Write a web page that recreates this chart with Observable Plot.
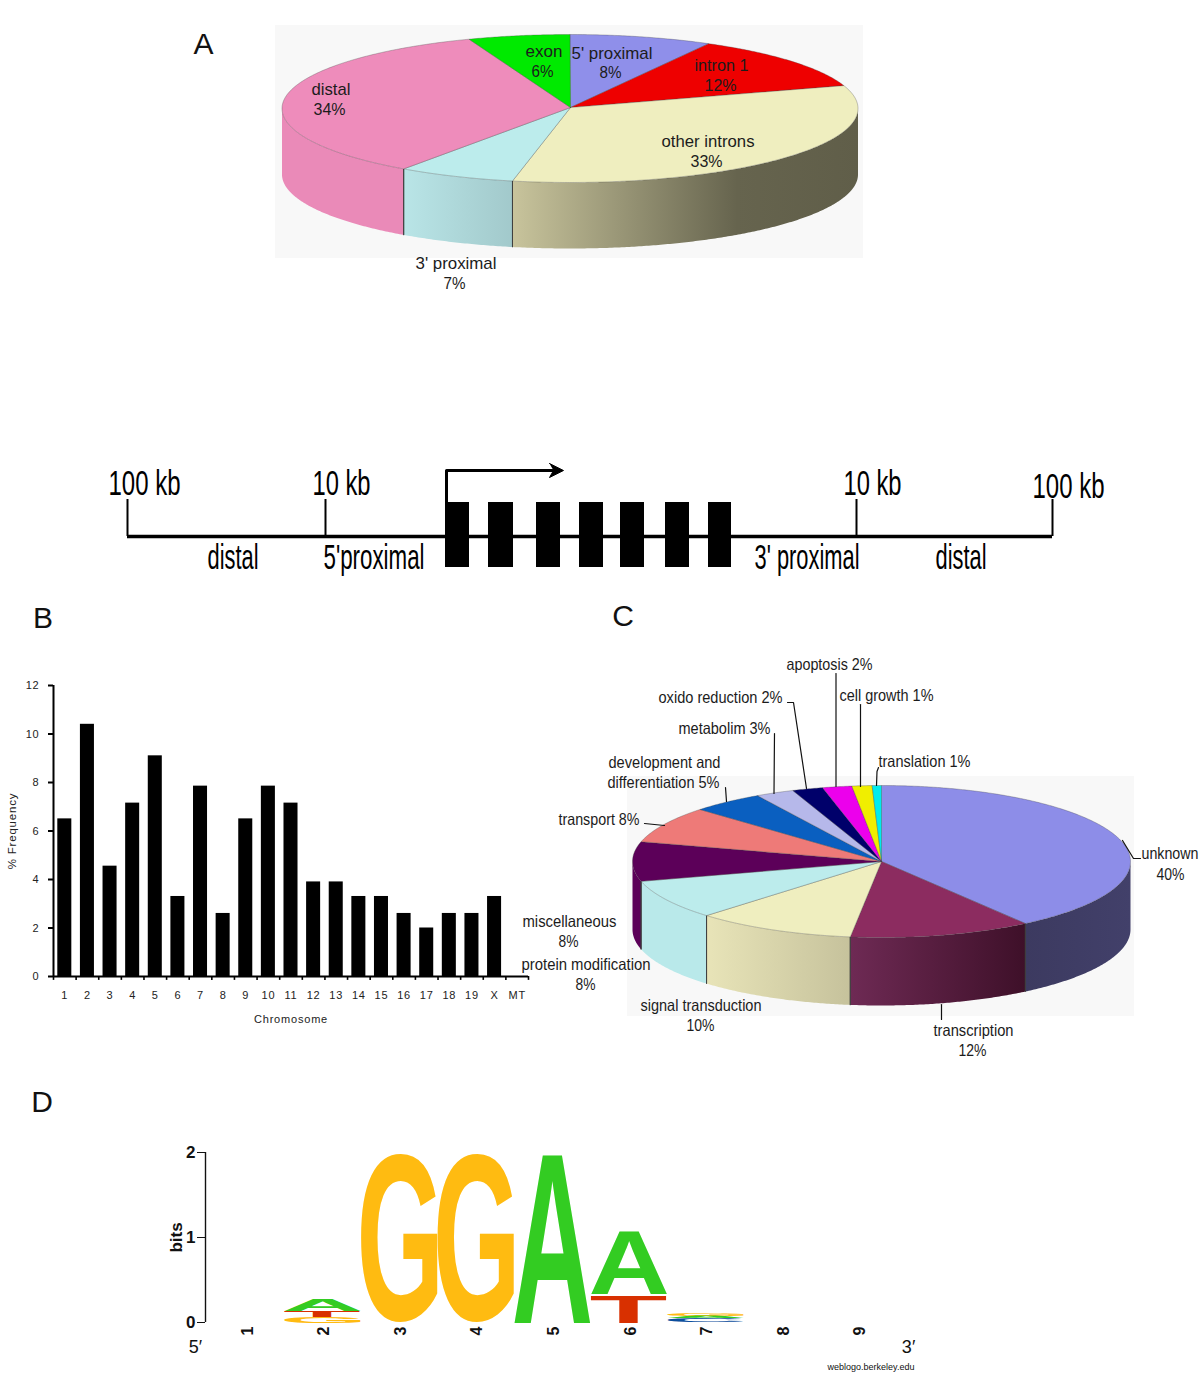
<!DOCTYPE html>
<html>
<head>
<meta charset="utf-8">
<script src="https://cdn.jsdelivr.net/npm/d3@7"></script>
<script src="https://cdn.jsdelivr.net/npm/@observablehq/plot@0.6"></script>
<style>
  html, body { margin: 0; padding: 0; background: #fff; }
  #page { position: relative; width: 1200px; height: 1388px; overflow: hidden; }
  #page > svg { position: absolute; }
</style>
</head>
<body>
<div id="page"></div>
<script>
// ---------- Panel A: genomic location of sites ----------
const regionNames  = ["5' proximal", "intron 1", "other introns", "3' proximal", "distal", "exon"];
const regionShares = [8, 12, 33.2, 6.6, 34.5, 5.7];
const regionColors = ["#8f8fea", "#ee0000", "#efeebf", "#bcecec", "#ee8cbb", "#00ea00"];

// ---------- Gene diagram ----------
const geneTicks  = [127, 325, 856, 1052];
const exonStarts = [445, 488, 536, 579, 620, 665, 708];
const exonEnds   = [469, 513, 560, 603, 644, 689, 731];

// ---------- Panel B: chromosome frequency ----------
const chromosomes = ["1","2","3","4","5","6","7","8","9","10","11","12","13","14","15","16","17","18","19","X","MT"];
const frequency   = [6.5,10.4,4.55,7.15,9.1,3.3,7.85,2.6,6.5,7.85,7.15,3.9,3.9,3.3,3.3,2.6,2.0,2.6,2.6,3.3,0];

// ---------- Panel C: gene ontology ----------
const goNames  = ["unknown","transcription","signal transduction","protein modification","miscellaneous","transport","development and differentiation","metabolim","oxido reduction","apoptosis","cell growth","translation"];
const goShares = [40.2, 11.8, 10.4, 8.4, 8.4, 7.8, 4.7, 2.5, 2, 1.9, 1.3, 0.6];
const goColors = ["#8d8de8","#8c2c60","#efeebf","#bcecec","#5c0059","#ee7a78","#0a5fc0","#b6b8ea","#00006a","#ec00ec","#f0ee00","#00ecec"];

// ---------- Panel D: sequence logo ----------
const logoPositions = [1,2,3,4,5,6,7,8,9];
const logoLetters = ["G","T","A","G","G","A","T","A","C","A","G"];
const logoPos     = [2,2,2,3,4,5,6,6,7,7,7];
const logoBase    = [-0.01,0.07,0.14,0,0,0,0,0.33,0.01,0.05,0.08];
const logoTop     = [0.06,0.14,0.28,1.98,1.98,2.0,0.32,1.08,0.05,0.08,0.11];
const baseColors  = {A:"#33cc22", G:"#ffbb11", T:"#d83000", C:"#0b4f9e"};

// ---------- Text ----------
const labelsA = [
  ["exon",525,56,37],["6%",531,76,22],["5' proximal",571,58,81],["8%",599,77,22],
  ["intron 1",694,70,54],["12%",704,90,32],["distal",311,94,39],["34%",313,114,32],
  ["other introns",661,146,93],["33%",690,166,32],["3' proximal",415,268,81],["7%",443,288,22]
];
const labelsGene = [
  ["100 kb",108,494,72],["10 kb",312,494,58],["10 kb",843,494,58],["100 kb",1032,497,72],
  ["distal",207,568,51],["5'proximal",323,568,101],["3' proximal",754,568,105],["distal",935,568,51]
];
const labelsC = [
  ["apoptosis 2%",786,669,86],["cell growth 1%",839,700,94],["oxido reduction 2%",658,702,124],
  ["translation 1%",878,766,92],["metabolim 3%",678,733,92],["development and",608,767,112],
  ["differentiation 5%",607,787,112],["transport 8%",558,824,81],["unknown",1141,858,57],["40%",1156,879,28],
  ["miscellaneous",522,926,94],["8%",558,946,20],["protein modification",521,969,129],["8%",575,989,20],
  ["signal transduction",640,1010,121],["10%",686,1030,28],["transcription",933,1035,80],["12%",958,1055,28]
];
const leadersC = [
  [[835.5,673],[835.5,786]], [[860,704],[860,786]], [[878,767],[876.5,771],[876,785]],
  [[787,702],[793,702],[806,788]], [[774,733],[773.5,793]], [[725,787],[726,801]],
  [[644,823],[664,825]], [[1122,840],[1133,858],[1140,858]], [[941,1004],[941,1019]]
];

// ---------- Helpers ----------
const page = document.getElementById("page");
const SANS = '"Liberation Sans", Arial, sans-serif';

function place(svg, left, top) {
  svg.style.left = left + "px";
  svg.style.top = top + "px";
  page.appendChild(svg);
}

// A Plot whose x/y scales cover a window of the page, so one unit is one pixel.
function framePlot(x0, x1, y0, y1, marks) {
  const svg = Plot.plot({
    width: x1 - x0, height: y1 - y0, margin: 0,
    x: {domain: [x0, x1], axis: null},
    y: {domain: [y1, y0], axis: null},
    color: {type: "identity"},
    style: {background: "transparent", fontFamily: SANS, overflow: "visible"},
    marks
  });
  place(svg, x0, y0);
}

// Text lines fitted to the width they take in the reference.
function fittedText(rows, fontSize, fill = "#1c1c1c") {
  const data = rows.map(([text, x, y, w]) => ({text, x, y, w}));
  return Plot.text(data, {
    x: "x", y: "y", text: "text", textAnchor: "start", lineAnchor: "bottom",
    fontSize, fill,
    render(index, scales, values, dims, ctx, next) {
      const g = next(index, scales, values, dims, ctx);
      d3.select(g).selectAll("text").each(function (i) {
        this.setAttribute("textLength", data[i].w);
        this.setAttribute("lengthAdjust", "spacingAndGlyphs");
      });
      return g;
    }
  });
}

// Tilted 3D pie drawn from shares; each visible wall gets a horizontal gradient.
function pieMarks(g, shares, colors, ramps) {
  const total = d3.sum(shares);
  const rad = d => d * Math.PI / 180;
  const rx = d => g.cx + g.rx * Math.sin(rad(d));
  const ry = d => g.cy - g.ry * Math.cos(rad(d));
  const tops = [], walls = [], edges = [], gradients = [];
  let acc = 0;
  shares.forEach((s, i) => {
    const a0 = acc / total * 360, a1 = (acc + s) / total * 360;
    acc += s;
    const n = Math.max(2, Math.ceil((a1 - a0) * 2));
    tops.push({id: i, x: g.ax, y: g.ay, c: colors[i]});
    for (let k = 0; k <= n; k++) {
      const d = a0 + (a1 - a0) * k / n;
      tops.push({id: i, x: rx(d), y: ry(d), c: colors[i]});
    }
    tops.push({id: i, x: g.ax, y: g.ay, c: colors[i]});
    const v0 = Math.max(a0, 90), v1 = Math.min(a1, 270);
    if (v0 < v1) {
      const gid = g.id + "-wall-" + i, c = `url(#${gid})`;
      gradients.push({gid, stops: ramps[i]});
      const m = Math.max(2, Math.ceil((v1 - v0) * 2));
      for (let k = 0; k <= m; k++) {
        const d = v0 + (v1 - v0) * k / m;
        walls.push({id: i, c, x: rx(d), y: ry(d)});
      }
      for (let k = m; k >= 0; k--) {
        const d = v0 + (v1 - v0) * k / m;
        walls.push({id: i, c, x: rx(d), y: ry(d) + g.depth});
      }
      for (const d of [a0, a1]) if (d > 90 && d < 270) {
        edges.push({id: "e" + d, x: rx(d), y: ry(d)}, {id: "e" + d, x: rx(d), y: ry(d) + g.depth});
      }
    }
  });
  const defs = () => {
    const ns = "http://www.w3.org/2000/svg";
    const el = document.createElementNS(ns, "defs");
    for (const {gid, stops} of gradients) {
      const lg = document.createElementNS(ns, "linearGradient");
      lg.setAttribute("id", gid);
      for (const [t, col] of stops) {
        const st = document.createElementNS(ns, "stop");
        st.setAttribute("offset", t);
        st.setAttribute("stop-color", col);
        lg.appendChild(st);
      }
      el.appendChild(lg);
    }
    return el;
  };
  return [
    defs,
    Plot.line(walls, {x: "x", y: "y", z: "id", fill: "c", stroke: "none"}),
    Plot.line(edges, {x: "x", y: "y", z: "id", stroke: "#3c3c3c", strokeWidth: 0.7}),
    Plot.line(tops, {x: "x", y: "y", z: "id", fill: "c", stroke: "#444", strokeWidth: 0.45, strokeOpacity: 0.7})
  ];
}

// ---------- Panel A ----------
const geomA = {id: "a", cx: 569.5, cy: 108, rx: 288, ry: 74, ax: 570, ay: 107, depth: 66};
const rampsA = [
  [[0,"#55557c"],[1,"#55557c"]],
  [[0,"#6a6850"],[1,"#6a6850"]],
  [[0,"#c8c49c"],[0.65,"#66644e"],[1,"#605e49"]],
  [[0,"#b9e5e7"],[1,"#a2c9cb"]],
  [[0,"#ea8ab8"],[1,"#ea8ab8"]],
  [[0,"#00aa00"],[1,"#00aa00"]]
];
framePlot(0, 1200, 0, 320, [
  Plot.rect([{}], {x1: () => 275, x2: () => 863, y1: () => 25, y2: () => 258, fill: "#f8f8f8"}),
  ...pieMarks(geomA, regionShares, regionColors, rampsA),
  fittedText(labelsA, 17),
  Plot.text(["A"], {x: () => 203, y: () => 53, fontSize: 30, fill: "#111", lineAnchor: "bottom", fontFamily: SANS})
]);

// ---------- Gene diagram ----------
const exons = exonStarts.map((start, i) => ({start, end: exonEnds[i]}));
framePlot(0, 1200, 440, 590, [
  Plot.ruleY([536], {x1: 127, x2: 1052, stroke: "#000", strokeWidth: 3.5}),
  Plot.ruleX(geneTicks, {y1: 499, y2: 536, stroke: "#000", strokeWidth: 2}),
  Plot.rect(exons, {x1: "start", x2: "end", y1: () => 502, y2: () => 567, fill: "#000"}),
  Plot.line([[446,502],[446,470],[552,470]], {stroke: "#000", strokeWidth: 3, curve: "linear"}),
  Plot.line([[549,463],[563,470],[549,477],[553,470]], {fill: "#000", stroke: "#000", strokeWidth: 1}),
  fittedText(labelsGene, 35, "#000")
]);

// ---------- Panel B ----------
const chromRows = chromosomes.map((chrom, i) => ({chrom, freq: frequency[i]}));
const stepB = (528 - 53) / chromosomes.length;
const svgB = Plot.plot({
  width: 540, height: 380,
  marginLeft: 53, marginRight: 12, marginTop: 25, marginBottom: 64,
  x: {domain: chromosomes, paddingInner: 0.38, paddingOuter: 0.19, round: false, label: null},
  y: {domain: [0, 12], label: null},
  style: {background: "transparent", fontFamily: SANS, fontSize: "11px", letterSpacing: "0.8px", color: "#222", overflow: "visible"},
  marks: [
    Plot.axisX({tickSize: 0, tickPadding: 15, label: null, fontSize: 11}),
    Plot.axisY({ticks: [0,2,4,6,8,10,12], tickSize: 5, tickPadding: 9, stroke: "#000", strokeWidth: 2, label: null, fontSize: 11}),
    Plot.barY(chromRows, {x: "chrom", y: "freq", fill: "#000"}),
    Plot.ruleY([0], {stroke: "#000", strokeWidth: 2}),
    Plot.ruleX(["1"], {y1: 0, y2: 12, dx: -stepB / 2, stroke: "#000", strokeWidth: 2}),
    Plot.ruleX(chromosomes, {y1: 0, y2: -0.16, dx: -stepB / 2, stroke: "#000", strokeWidth: 1.6}),
    Plot.ruleX(["MT"], {y1: 0, y2: -0.16, dx: stepB / 2, stroke: "#000", strokeWidth: 1.6}),
    Plot.text(["Chromosome"], {x: () => "11", y: () => -1.76, fontSize: 11, fill: "#222"}),
    Plot.text(["% Frequency"], {x: () => "1", dx: -52.5, y: () => 6, rotate: -90, fontSize: 11.5, fill: "#222"})
  ]
});
place(svgB, 0, 660);

// ---------- Panel C ----------
const geomC = {id: "c", cx: 881, cy: 861, rx: 249, ry: 76, ax: 881, ay: 861, depth: 68};
const rampsC = [
  [[0,"#3c3a60"],[1,"#42406a"]],
  [[0,"#6e2a54"],[1,"#3e1029"]],
  [[0,"#e8e4b8"],[1,"#c6c29c"]],
  [[0,"#b9e9ea"],[1,"#b9e9ea"]],
  [[0,"#5c0059"],[1,"#5c0059"]],
  [[0,"#ee7a78"],[1,"#ee7a78"]],
  [[0,"#000"],[1,"#000"]],[[0,"#000"],[1,"#000"]],[[0,"#000"],[1,"#000"]],
  [[0,"#000"],[1,"#000"]],[[0,"#000"],[1,"#000"]],[[0,"#000"],[1,"#000"]]
];
const leaderRows = leadersC.flatMap((pts, id) => pts.map(([x, y]) => ({id, x, y})));
framePlot(500, 1200, 590, 1070, [
  Plot.rect([{}], {x1: () => 627, x2: () => 1134, y1: () => 776, y2: () => 1016, fill: "#f8f8f8"}),
  ...pieMarks(geomC, goShares, goColors, rampsC),
  Plot.line(leaderRows, {x: "x", y: "y", z: "id", stroke: "#111", strokeWidth: 1.2}),
  fittedText(labelsC, 16.5),
  Plot.text(["C"], {x: () => 622.5, y: () => 625, fontSize: 30, fill: "#111", lineAnchor: "bottom", fontFamily: SANS})
]);

// ---------- Panel letters B and D ----------
framePlot(0, 120, 590, 1130, [
  Plot.text(["B"], {x: () => 42.5, y: () => 627, fontSize: 30, fill: "#111", lineAnchor: "bottom", fontFamily: SANS}),
  Plot.text(["D"], {x: () => 41.5, y: () => 1111, fontSize: 30, fill: "#111", lineAnchor: "bottom", fontFamily: SANS})
]);

// ---------- Panel D ----------
const logoRows = logoLetters.map((letter, i) => ({letter, pos: logoPos[i], y0: logoBase[i], y1: logoTop[i]}));
const measure = document.createElement("canvas").getContext("2d");
measure.font = 'bold 100px "Liberation Sans"';
const svgD = Plot.plot({
  width: 960, height: 250,
  marginLeft: 208.7, marginRight: 61.9, marginTop: 22, marginBottom: 58,
  x: {domain: [0.5, 9.5], axis: null, label: null},
  y: {domain: [0, 2], label: null},
  style: {background: "transparent", fontFamily: SANS, overflow: "visible", color: "#111"},
  marks: [
    Plot.axisY({ticks: [0,1,2], tickFormat: d3.format("d"), tickSize: 8, tickPadding: 2, dx: -3.7, label: null, stroke: "#111", fontSize: 17, fontWeight: "bold"}),
    Plot.ruleX([0.5], {y1: 0, y2: 2, dx: -3.7, stroke: "#111", strokeWidth: 1.4}),
    Plot.text(logoRows, {
      x: "pos", y: "y0", text: "letter", fill: d => baseColors[d.letter],
      fontSize: 100, fontWeight: "bold",
      render(index, scales, values, dims, ctx, next) {
        const g = next(index, scales, values, dims, ctx);
        d3.select(g).selectAll("text").each(function (i) {
          const d = logoRows[i];
          const m = measure.measureText(d.letter);
          const left = m.actualBoundingBoxLeft, right = m.actualBoundingBoxRight;
          const asc = m.actualBoundingBoxAscent, desc = m.actualBoundingBoxDescent;
          const X0 = scales.x(d.pos - 0.5) - 1.5, X1 = scales.x(d.pos + 0.5) - 1.5;
          const Yb = scales.y(d.y0), Yt = scales.y(d.y1);
          const sx = (X1 - X0) / (left + right), sy = (Yb - Yt) / (asc + desc);
          this.removeAttribute("x"); this.removeAttribute("y"); this.removeAttribute("dy");
          this.setAttribute("text-anchor", "start");
          this.setAttribute("transform", `translate(${X0 + left * sx},${Yb - desc * sy}) scale(${sx},${sy})`);
        });
        return g;
      }
    }),
    Plot.text(logoPositions, {x: d => d, y: () => -0.1, rotate: -90, fontSize: 16, fontWeight: "bold", fill: "#111"}),
    Plot.text(["bits"], {x: () => 0.5, y: () => 1, dx: -33, rotate: -90, fontSize: 17, fontWeight: "bold", fill: "#111"}),
    Plot.text(["5′"], {x: () => 0.32, y: () => -0.295, fontSize: 18, fill: "#111"}),
    Plot.text(["3′"], {x: () => 9.63, y: () => -0.295, fontSize: 18, fill: "#111"}),
    Plot.text(["weblogo.berkeley.edu"], {x: () => 9.14, y: () => -0.52, fontSize: 9, fill: "#111"})
  ]
});
place(svgD, 0, 1130);
</script>
</body>
</html>
